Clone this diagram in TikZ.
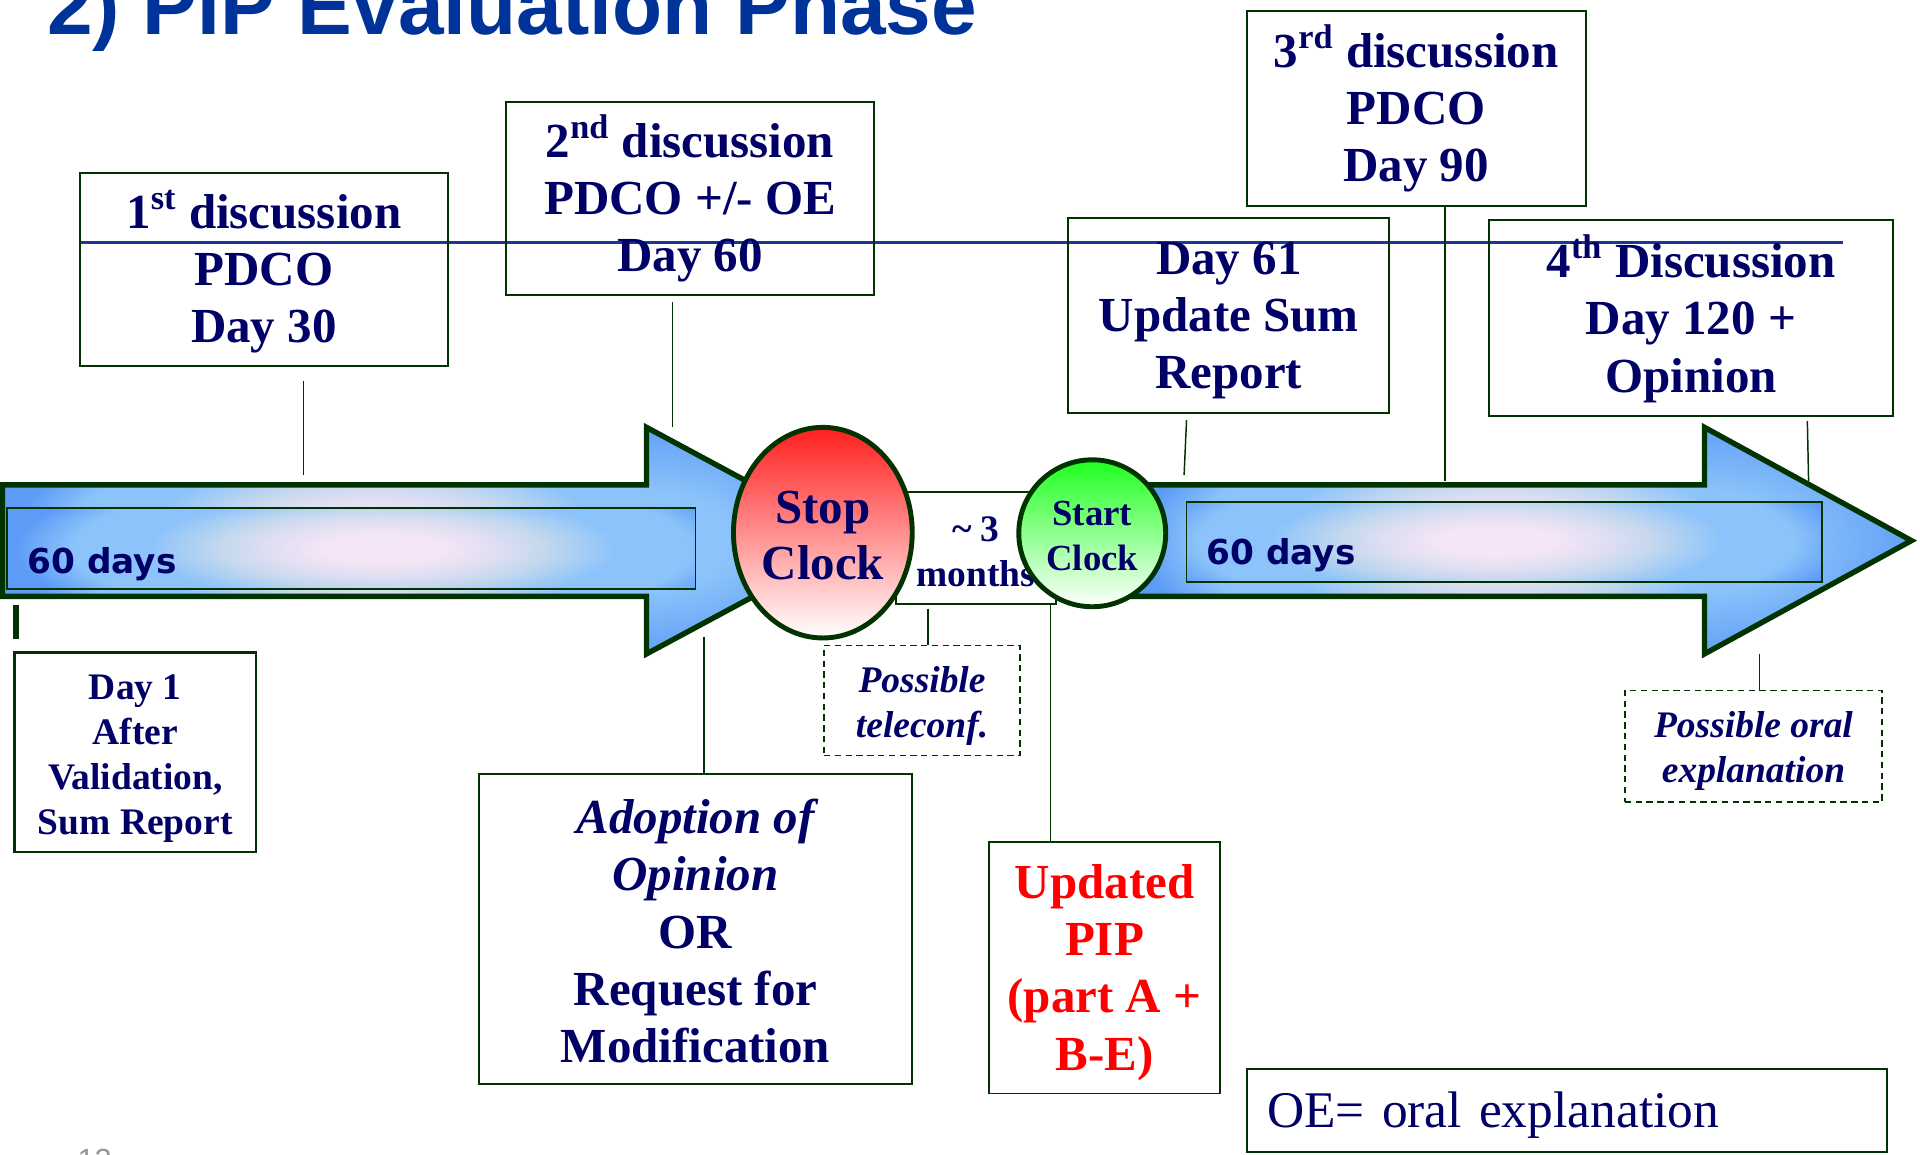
\documentclass[tikz,border=0pt]{standalone}
\usepackage{fontspec}
\setmainfont{Liberation Serif}
\newfontfamily\titlefont{Liberation Sans}
\newfontfamily\labelfont{DejaVu Sans}
\usetikzlibrary{shapes.geometric}

\definecolor{dkgreen}{RGB}{0,51,0}
\definecolor{navy}{RGB}{0,0,102}
\definecolor{titleblue}{RGB}{0,51,153}
\definecolor{lineblue}{RGB}{25,55,150}
\definecolor{ablue}{RGB}{92,156,246}
\definecolor{alight}{RGB}{140,195,250}
\definecolor{apale}{RGB}{196,216,238}
\definecolor{amid}{RGB}{222,222,242}
\definecolor{apink}{RGB}{244,230,246}
\definecolor{stopred}{RGB}{255,30,30}
\definecolor{startgreen}{RGB}{30,255,30}
\definecolor{pipred}{RGB}{255,0,0}
\definecolor{slidegrey}{RGB}{150,150,150}

% soft glow used inside the timeline arrows
\pgfdeclareradialshading{shaftglow}{\pgfpoint{0bp}{0bp}}{color(0bp)=(apink); color(4bp)=(apink); color(8bp)=(amid); color(11bp)=(apale); color(16bp)=(alight); color(21bp)=(alight); color(25bp)=(ablue); color(50bp)=(ablue)}
\pgfdeclareradialshading{headglow}{\pgfpoint{0bp}{0bp}}{color(0bp)=(alight); color(10bp)=(alight); color(25bp)=(ablue); color(50bp)=(ablue)}

% invisible strut that makes the first line taller, so a text block sits lower in its frame
\newcommand\topstrut[1]{\rule{0pt}{#1}}

\begin{document}
\begin{tikzpicture}[x=0.5pt,y=-0.5pt,
  box/.style={draw=dkgreen, line width=0.8pt, inner sep=0pt, align=center, text=navy},
  big/.style={font=\fontsize{20}{23.4}\selectfont\bfseries},
  small/.style={font=\fontsize{15.3}{18.4}\selectfont\bfseries},
  dashbox/.style={box, line width=0.6pt, dash pattern=on 2.6pt off 1.8pt},
  conn/.style={draw=dkgreen, line width=0.6pt},
  arrowline/.style={draw=dkgreen, line width=2.2pt, line join=miter},
  inrect/.style={draw=dkgreen, line width=0.7pt},
  daylabel/.style={font=\labelfont\bfseries\fontsize{14}{17}\selectfont, text=navy, inner sep=0pt, anchor=base west}
]
\useasboundingbox (0,0) rectangle (1568,943);

% title
\node[anchor=base west, inner sep=0pt, text=titleblue,
      font=\titlefont\fontsize{33.5}{40}\selectfont\bfseries] (title) at (38,28) {2) PIP Evaluation Phase};

% horizontal reference line
\coordinate (hlA) at (65,198);
\coordinate (hlB) at (1505,198);
\draw[draw=lineblue, line width=1.1pt] (hlA) -- (hlB);

% upper boxes
\node[box,big,minimum width=150.5pt,minimum height=79pt] (d30) at (215.5,220)
  {\topstrut{17.6pt}1\textsuperscript{st} discussion\\PDCO\\Day 30};
\node[box,big,minimum width=150.5pt,minimum height=79pt] (d60) at (563.5,162)
  {\topstrut{17.6pt}2\textsuperscript{nd} discussion\\PDCO +/- OE\\Day 60};
\node[box,big,minimum width=138.5pt,minimum height=79.5pt] (d90) at (1156.5,88.5)
  {\topstrut{17.6pt}3\textsuperscript{rd} discussion\\PDCO\\Day 90};
\node[box,big,minimum width=131pt,minimum height=79.5pt] (d61) at (1003.5,257.5)
  {\topstrut{17.6pt}Day 61\\Update Sum\\Report};
\node[box,big,minimum width=165pt,minimum height=80pt] (d120) at (1381,260)
  {\topstrut{17.6pt}4\textsuperscript{th} Discussion\\Day 120 +\\Opinion};

% left timeline arrow
\begin{scope}
  \clip (2,396) -- (528,396) -- (528,349) -- (700,441.5) -- (528,534) -- (528,487) -- (2,487) -- cycle;
  \fill[ablue] (0,340) rectangle (720,545);
  \shade[shading=shaftglow] (305,441.5) ellipse [x radius=148pt, y radius=55pt];
  \begin{scope}
    \clip (528,340) rectangle (720,545);
    \shade[shading=headglow] (528,441.5) ellipse [x radius=90pt, y radius=50pt];
  \end{scope}
\end{scope}
\draw[arrowline] (2,396) -- (528,396) -- (528,349) -- (700,441.5) -- (528,534) -- (528,487) -- (2,487) -- cycle;

\begin{scope}
  \clip (6,415) rectangle (568,481);
  \fill[ablue] (6,415) rectangle (568,481);
  \shade[shading=shaftglow] (312,448) ellipse [x radius=150pt, y radius=36pt];
\end{scope}
\draw[inrect] (6,415) rectangle (568,481);
\node[daylabel] (lab1) at (22,468) {60 days};

% right timeline arrow
\begin{scope}
  \clip (880,396) -- (1392,396) -- (1392,349) -- (1561,441.5) -- (1392,534) -- (1392,487) -- (880,487) -- cycle;
  \fill[ablue] (870,340) rectangle (1570,545);
  \shade[shading=shaftglow] (1225,441.5) ellipse [x radius=148pt, y radius=55pt];
  \begin{scope}
    \clip (1392,340) rectangle (1570,545);
    \shade[shading=headglow] (1392,441.5) ellipse [x radius=90pt, y radius=50pt];
  \end{scope}
\end{scope}
\draw[arrowline] (880,396) -- (1392,396) -- (1392,349) -- (1561,441.5) -- (1392,534) -- (1392,487) -- (880,487) -- cycle;

\begin{scope}
  \clip (969,410) rectangle (1488,475);
  \fill[ablue] (969,410) rectangle (1488,475);
  \shade[shading=shaftglow] (1222,442) ellipse [x radius=145pt, y radius=36pt];
\end{scope}
\draw[inrect] (969,410) rectangle (1488,475);
\node[daylabel] (lab2) at (985,461) {60 days};

% clock stop interval
\node[box,small,fill=white,minimum width=65pt,minimum height=45.5pt] (months) at (797,447.5)
  {\topstrut{12.9pt}\textasciitilde{} 3\\months};
\node[ellipse, draw=dkgreen, line width=2pt, top color=stopred, bottom color=white,
      minimum width=73pt, minimum height=86pt, inner sep=0pt, align=center, text=navy,
      font=\fontsize{20}{23}\selectfont\bfseries] (stop) at (672,435) {\topstrut{15.5pt}Stop\\Clock};
\node[circle, draw=dkgreen, line width=2pt, top color=startgreen, bottom color=white,
      minimum size=60pt, inner sep=0pt, align=center, text=navy,
      font=\fontsize{15}{18.5}\selectfont\bfseries] (start) at (892,435.5) {\topstrut{12.3pt}Start\\Clock};

% lower boxes
\node[box,small,line width=1pt,minimum width=98.5pt,minimum height=81.5pt] (d1) at (110.5,614.5)
  {\topstrut{15pt}Day 1\\After\\Validation,\\Sum Report};
\node[box,big,minimum width=177pt,minimum height=126.5pt] (adopt) at (568,758.5)
  {{\itshape\topstrut{16pt}Adoption of}\\{\itshape Opinion}\\OR\\Request for\\Modification};
\node[dashbox,small,minimum width=80pt,minimum height=45pt] (tele) at (753,572)
  {{\itshape\topstrut{15pt}Possible}\\{\itshape teleconf.}};
\node[box,big,text=pipred,minimum width=94pt,minimum height=102.5pt] (pip) at (902,790.5)
  {\topstrut{17.6pt}Updated\\PIP\\(part A +\\B-E)};
\node[dashbox,small,minimum width=105pt,minimum height=45.5pt] (oral) at (1432,609.5)
  {{\itshape\topstrut{14.4pt}Possible oral}\\{\itshape explanation}};
\node[box,minimum width=261.5pt,minimum height=34pt,text width=244.5pt,align=left,
      font=\fontsize{21}{24}\selectfont] (oe) at (1279.5,907) {\topstrut{18.6pt}OE= oral explanation};

% day 1 tick
\coordinate (tkA) at (13,494);
\coordinate (tkB) at (13,522);
\draw[draw=dkgreen, line width=2.5pt] (tkA) -- (tkB);

% connectors
\coordinate (c30a) at (248,311);   \coordinate (c30b) at (248,388);
\coordinate (c60a) at (549,247);   \coordinate (c60b) at (549,349);
\coordinate (c90a) at (1180,168);  \coordinate (c90b) at (1180,393);
\coordinate (c61a) at (969,343);   \coordinate (c61b) at (967,388);
\coordinate (c120a) at (1476,344); \coordinate (c120b) at (1477,393);
\coordinate (cada) at (575,520);   \coordinate (cadb) at (575,632);
\coordinate (ctla) at (758,497);   \coordinate (ctlb) at (758,527);
\coordinate (cpia) at (858,493);   \coordinate (cpib) at (858,688);
\coordinate (cora) at (1437,534);  \coordinate (corb) at (1437,564);
\draw[conn] (c30a) -- (c30b);
\draw[conn] (c60a) -- (c60b);
\draw[conn] (c90a) -- (c90b);
\draw[conn] (c61a) -- (c61b);
\draw[conn] (c120a) -- (c120b);
\draw[conn] (cada) -- (adopt.north -| cadb);
\draw[conn] (ctla) -- (tele.north -| ctlb);
\draw[conn] (cpia) -- (pip.north -| cpib);
\draw[conn] (cora) -- (oral.north -| corb);

% page number
\node[anchor=base west, inner sep=0pt, text=slidegrey,
      font=\titlefont\fontsize{12.5}{14}\selectfont] (pageno) at (63,956) {12};
\end{tikzpicture}
\end{document}
